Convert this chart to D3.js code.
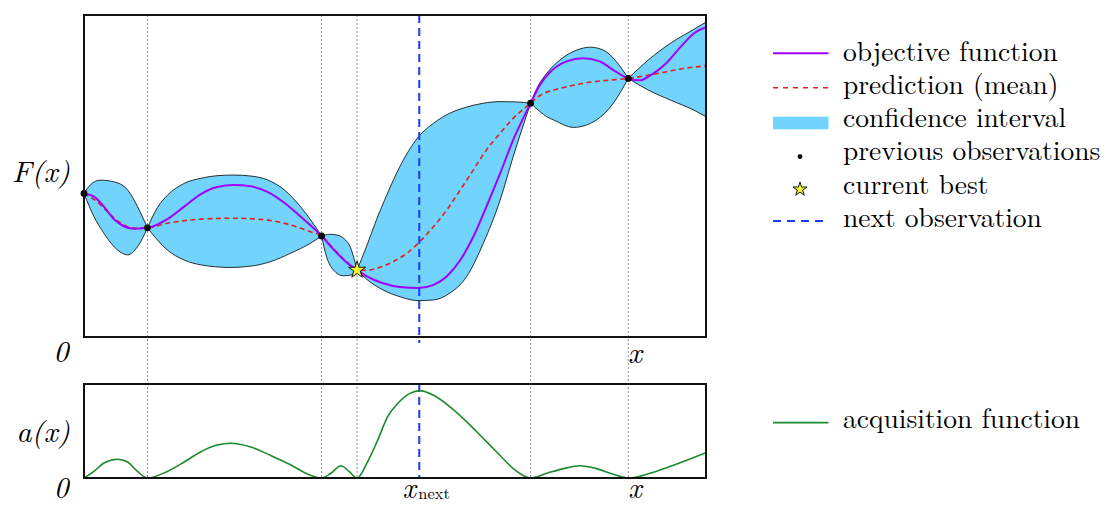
<!DOCTYPE html>
<html><head><meta charset="utf-8">
<script src="https://cdn.jsdelivr.net/npm/d3@7"></script>
<style>body{margin:0;background:#fff}svg{display:block}</style>
</head><body>
<svg id="chart" width="1108" height="506"></svg>
<script>
// ---------------- data ----------------
const observations = [[0,4.46],[1.02,3.39],[3.82,3.14],[4.39,2.08],[7.18,7.26],[8.75,8.03]];
const currentBest = [4.39, 2.08];
const nextX = 5.39;
const objective = [[0,4.46],[0.16,4.36],[0.32,4.05],[0.48,3.66],[0.64,3.44],[0.80,3.36],[1.02,3.39],[1.34,3.66],[1.61,4.05],[1.88,4.44],[2.14,4.66],[2.41,4.72],[2.68,4.68],[2.95,4.51],[3.22,4.17],[3.48,3.74],[3.82,3.14],[4.01,2.72],[4.22,2.32],[4.39,2.08],[4.54,1.89],[4.81,1.67],[5.08,1.55],[5.37,1.52],[5.62,1.62],[5.83,1.88],[6.05,2.39],[6.26,3.12],[6.47,4.05],[6.69,5.08],[6.90,6.12],[7.18,7.26],[7.33,7.83],[7.49,8.22],[7.76,8.56],[8.03,8.66],[8.30,8.55],[8.51,8.29],[8.75,8.03],[8.94,7.97],[9.10,8.12],[9.37,8.52],[9.61,9.05],[9.82,9.45],[10,9.62]];
const mean = [[0,4.46],[0.21,4.20],[0.43,3.79],[0.64,3.48],[0.80,3.38],[1.02,3.39],[1.34,3.53],[1.88,3.66],[2.41,3.69],[2.95,3.63],[3.32,3.48],[3.64,3.27],[3.82,3.14],[4.01,2.75],[4.22,2.34],[4.39,2.08],[4.55,2.07],[4.70,2.13],[4.97,2.34],[5.19,2.60],[5.37,2.91],[5.62,3.43],[5.83,3.94],[6.05,4.57],[6.26,5.19],[6.47,5.81],[6.69,6.33],[6.90,6.79],[7.18,7.26],[7.33,7.50],[7.55,7.67],[7.76,7.77],[8.03,7.88],[8.30,7.95],[8.75,8.03],[9.10,8.14],[9.37,8.24],[9.64,8.34],[10,8.42]];
const upper = [[0,4.46],[0.11,4.74],[0.26,4.87],[0.48,4.82],[0.70,4.57],[0.86,4.05],[1.02,3.39],[1.18,4.02],[1.34,4.40],[1.61,4.77],[1.88,4.93],[2.14,5.01],[2.41,5.03],[2.68,5.00],[2.95,4.88],[3.22,4.57],[3.48,4.05],[3.82,3.14],[3.95,3.19],[4.08,3.16],[4.20,3.02],[4.28,2.80],[4.34,2.45],[4.39,2.08],[4.54,2.80],[4.70,3.63],[4.87,4.42],[5.08,5.30],[5.37,6.20],[5.62,6.64],[5.88,6.95],[6.15,7.14],[6.42,7.26],[6.69,7.31],[6.96,7.30],[7.18,7.26],[7.28,7.72],[7.44,8.19],[7.65,8.60],[7.92,8.91],[8.14,9.00],[8.35,8.91],[8.56,8.55],[8.75,8.03],[9.07,8.60],[9.45,9.15],[9.80,9.55],[10,9.78]];
const lower = [[0,4.46],[0.16,3.74],[0.32,3.22],[0.54,2.70],[0.70,2.55],[0.86,2.80],[1.02,3.39],[1.34,2.70],[1.61,2.39],[1.88,2.24],[2.35,2.16],[2.68,2.20],[3.00,2.34],[3.32,2.60],[3.64,2.91],[3.82,3.14],[3.90,2.49],[4.01,2.08],[4.17,1.90],[4.33,1.94],[4.39,2.08],[4.54,1.80],[4.81,1.46],[5.08,1.25],[5.37,1.13],[5.62,1.15],[5.88,1.36],[6.15,1.87],[6.42,2.91],[6.69,4.25],[6.90,5.60],[7.18,7.26],[7.33,7.00],[7.44,6.84],[7.55,6.74],[7.87,6.51],[8.24,6.74],[8.51,7.26],[8.75,8.03],[9.07,7.67],[9.45,7.34],[9.80,7.05],[10,6.84]];
const acquisition = [[0,0],[0.16,0.07],[0.32,0.16],[0.54,0.20],[0.70,0.17],[0.86,0.07],[1.02,0],[1.34,0.07],[1.61,0.17],[1.88,0.28],[2.14,0.35],[2.36,0.37],[2.68,0.33],[3.00,0.24],[3.32,0.14],[3.64,0.03],[3.82,0],[3.97,0.05],[4.13,0.13],[4.26,0.07],[4.39,0],[4.55,0.16],[4.72,0.40],[4.88,0.65],[5.04,0.79],[5.24,0.90],[5.40,0.93],[5.62,0.88],[5.88,0.76],[6.15,0.60],[6.42,0.42],[6.69,0.24],[6.90,0.10],[7.18,0],[7.44,0.05],[7.71,0.10],[7.97,0.13],[8.24,0.10],[8.51,0.04],[8.75,0],[9.10,0.05],[9.37,0.11],[9.69,0.19],[10,0.27]];
const legendTop = ["objective function","prediction (mean)","confidence interval","previous observations","current best","next observation"];
const legendBottom = ["acquisition function"];
const axisLabels = {top:"F(x)", bottom:"a(x)", zero:"0", x:"x", next:"next"};

// ---------------- layout / style ----------------
const C = {purple:"#a200ff", red:"#e0201c", band:"#72d4fc", blue:"#1a3cff", green:"#1c8a2c", grid:"#8c8c8c"};
const FONT = '"Latin Modern Roman"';
const svg = d3.select("#chart");
const x = d3.scaleLinear().domain([0,10]).range([84,706]);
const y = d3.scaleLinear().domain([0,10]).range([337,15]);
const ya = d3.scaleLinear().domain([0,1]).range([478,384]);
const curve = d3.curveMonotoneX;

const defs = svg.append("defs");
defs.append("clipPath").attr("id","clipTop").append("rect").attr("x",84).attr("y",15).attr("width",622).attr("height",322);
defs.append("clipPath").attr("id","clipBot").append("rect").attr("x",84).attr("y",384).attr("width",622).attr("height",94);

// vertical dotted lines at observations
const obsLines = observations.filter(d => d[0] > 0);
svg.append("g").selectAll("line").data(obsLines).join("line")
  .attr("x1", d => x(d[0])).attr("x2", d => x(d[0]))
  .attr("y1", y(10)).attr("y2", ya(0))
  .attr("stroke", C.grid).attr("stroke-width", 1).attr("stroke-dasharray", "2,2");

// confidence band, one closed shape per interval between observations
const gTop = svg.append("g").attr("clip-path","url(#clipTop)");
const breaks = observations.map(d => d[0]).concat([10]);
const lineGen = d3.line().x(d => x(d[0])).y(d => y(d[1])).curve(curve);
for (let i = 0; i < breaks.length - 1; i++) {
  const a = breaks[i], b = breaks[i+1];
  const inSeg = d => d[0] >= a - 1e-9 && d[0] <= b + 1e-9;
  const up = upper.filter(inSeg);
  const lo = lower.filter(inSeg).reverse();
  const p = lineGen(up) + "L" + lineGen(lo).slice(1) + "Z";
  gTop.append("path").attr("d", p).attr("fill", C.band).attr("stroke", "#000").attr("stroke-width", 0.8);
}

// next observation (blue dashed)
svg.append("line").attr("x1", x(nextX)).attr("x2", x(nextX)).attr("y1", y(10)).attr("y2", 343)
  .attr("stroke", C.blue).attr("stroke-width", 2).attr("stroke-dasharray", "8,5");
svg.append("line").attr("x1", x(nextX)).attr("x2", x(nextX)).attr("y1", ya(1)).attr("y2", ya(0))
  .attr("stroke", C.blue).attr("stroke-width", 2).attr("stroke-dasharray", "8,5");

// mean & objective
gTop.append("path").attr("d", lineGen(mean)).attr("fill","none").attr("stroke", C.red)
  .attr("stroke-width", 1.6).attr("stroke-dasharray", "5,3.5");
gTop.append("path").attr("d", lineGen(objective)).attr("fill","none").attr("stroke", C.purple)
  .attr("stroke-width", 2);

// observations
svg.append("g").selectAll("circle").data(observations).join("circle")
  .attr("cx", d => x(d[0])).attr("cy", d => y(d[1])).attr("r", 3.4).attr("fill", "#000");
// current best star
svg.append("path").attr("d", d3.symbol(d3.symbolStar, 90)())
  .attr("transform", `translate(${x(currentBest[0])},${y(currentBest[1])})`)
  .attr("fill", "#f4f430").attr("stroke", "#000").attr("stroke-width", 0.9);

// acquisition
const lineA = d3.line().x(d => x(d[0])).y(d => ya(d[1])).curve(curve);
svg.append("g").attr("clip-path","url(#clipBot)").append("path").attr("d", lineA(acquisition))
  .attr("fill","none").attr("stroke", C.green).attr("stroke-width", 1.6);

// frames
svg.append("rect").attr("x",84).attr("y",15).attr("width",622).attr("height",322)
  .attr("fill","none").attr("stroke","#111").attr("stroke-width",2);
svg.append("rect").attr("x",84).attr("y",384).attr("width",622).attr("height",94)
  .attr("fill","none").attr("stroke","#111").attr("stroke-width",2);

// axis labels
const lab = (t, px, py, anchor, size, style) => svg.append("text").text(t)
  .attr("x", px).attr("y", py).attr("text-anchor", anchor)
  .style("font-family", FONT).style("font-size", size + "px")
  .style("font-style", style || "italic").attr("fill","#000");
lab(axisLabels.top, 70, 181.5, "end", 30);
lab(axisLabels.bottom, 70, 441.5, "end", 30);
lab(axisLabels.zero, 68.5, 362, "end", 30);
lab(axisLabels.zero, 68.5, 498, "end", 29);
lab(axisLabels.x, 635, 363, "middle", 30);
lab(axisLabels.x, 635, 498, "middle", 29);
lab(axisLabels.x, 409.2, 498, "middle", 29);
lab(axisLabels.next, 418.3, 499, "start", 16.5, "normal");

// legend
const legX1 = 773, legX2 = 828.5, legTextX = 843;
const legBase = [60.7, 93.9, 127.1, 160.3, 193.5, 226.7];
const legSymY = [53.3, 87.7, 123, 156.7, 189.3, 221];
const lg = svg.append("g");
lg.append("line").attr("x1",legX1).attr("x2",legX2).attr("y1",legSymY[0]).attr("y2",legSymY[0])
  .attr("stroke",C.purple).attr("stroke-width",2);
lg.append("line").attr("x1",legX1).attr("x2",legX2).attr("y1",legSymY[1]).attr("y2",legSymY[1])
  .attr("stroke",C.red).attr("stroke-width",1.6).attr("stroke-dasharray","5,5");
lg.append("rect").attr("x",legX1).attr("y",legSymY[2]-6.3).attr("width",legX2-legX1).attr("height",12.6)
  .attr("fill",C.band);
lg.append("circle").attr("cx",800).attr("cy",legSymY[3]).attr("r",2.4).attr("fill","#000");
lg.append("path").attr("d", d3.symbol(d3.symbolStar, 60)())
  .attr("transform", `translate(800,${legSymY[4]})`)
  .attr("fill", "#f4f430").attr("stroke", "#000").attr("stroke-width", 0.9);
lg.append("line").attr("x1",legX1).attr("x2",823).attr("y1",legSymY[5]).attr("y2",legSymY[5])
  .attr("stroke",C.blue).attr("stroke-width",1.8).attr("stroke-dasharray","8,6");
lg.selectAll("text.lt").data(legendTop).join("text").attr("class","lt")
  .text(d => d).attr("x", legTextX).attr("y", (d,i) => legBase[i])
  .style("font-family", FONT).style("font-size", "27.5px").attr("fill","#000");
lg.append("line").attr("x1",legX1).attr("x2",legX2).attr("y1",422.7).attr("y2",422.7)
  .attr("stroke",C.green).attr("stroke-width",1.8);
lg.append("text").text(legendBottom[0]).attr("x", legTextX).attr("y", 428.3)
  .style("font-family", FONT).style("font-size", "27.5px").attr("fill","#000");
</script>
</body></html>
